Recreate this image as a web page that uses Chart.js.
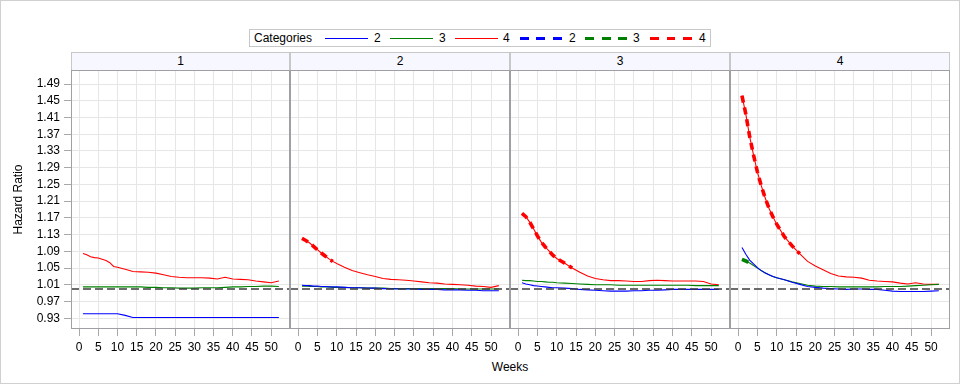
<!DOCTYPE html>
<html><head><meta charset="utf-8">
<script src="https://cdn.jsdelivr.net/npm/chart.js@4/dist/chart.umd.min.js"></script>
<style>
html,body{margin:0;padding:0;background:#fff;}
#root{position:relative;width:960px;height:384px;overflow:hidden;font-family:"Liberation Sans",Arial,sans-serif;font-size:12px;color:#000;background:#fff;}
#frame{position:absolute;left:0;top:0;width:958px;height:382px;border:1px solid #d0d0d0;}
.a{position:absolute;white-space:nowrap;line-height:14px;}
#legend{position:absolute;left:249px;top:29px;width:460px;height:16px;border:1px solid #c8c8c8;}
.hdr{position:absolute;top:52px;height:18px;box-sizing:border-box;background:#f7f8ff;border:1px solid #c8c8c8;border-bottom:none;text-align:center;line-height:17px;}
.sol{position:absolute;height:1px;top:38px;width:43px;}
.dsh{position:absolute;height:3px;top:37px;width:43px;}
canvas{position:absolute;}
</style></head>
<body><div id="root">
<div id="frame"></div>
<div id="legend"></div>
<div class="a" style="left:254px;top:31px;">Categories</div>
<div class="sol" style="left:325px;background:#0000ff;"></div><div class="a" style="left:374px;top:31px;">2</div>
<div class="sol" style="left:390px;background:#008000;"></div><div class="a" style="left:439px;top:31px;">3</div>
<div class="sol" style="left:455px;background:#ff0000;"></div><div class="a" style="left:503px;top:31px;">4</div>
<div class="dsh" style="left:520px;background:repeating-linear-gradient(90deg,#0000ff 0 9px,transparent 9px 16.5px);"></div><div class="a" style="left:569px;top:31px;">2</div>
<div class="dsh" style="left:585px;background:repeating-linear-gradient(90deg,#008000 0 9px,transparent 9px 16.5px);"></div><div class="a" style="left:633px;top:31px;">3</div>
<div class="dsh" style="left:650px;background:repeating-linear-gradient(90deg,#ff0000 0 9px,transparent 9px 16.5px);"></div><div class="a" style="left:699px;top:31px;">4</div>
<div class="hdr" style="left:71px;width:219px;">1</div>
<div class="hdr" style="left:290px;width:220px;">2</div>
<div class="hdr" style="left:510px;width:220px;">3</div>
<div class="hdr" style="left:730px;width:220px;">4</div>
<canvas id="c1" width="290" height="290" style="left:0px;top:70px;"></canvas>
<canvas id="c2" width="220" height="290" style="left:290px;top:70px;"></canvas>
<canvas id="c3" width="220" height="290" style="left:510px;top:70px;"></canvas>
<canvas id="c4" width="220" height="290" style="left:730px;top:70px;"></canvas>
<div class="a" style="left:410px;width:200px;text-align:center;top:360px;">Weeks</div>
</div>
<script>
// ---------------- DATA ----------------
const panels = ['1', '2', '3', '4'];
const categories = ['2', '3', '4'];
const weeks = [1,2,3,4,5,6,7,8,9,10,12,14,16,18,20,22,24,26,28,30,32,34,36,38,40,42,44,46,48,50,52];
const weekTicks = [0,5,10,15,20,25,30,35,40,45,50];
const hrTicks = [0.93,0.97,1.01,1.05,1.09,1.13,1.17,1.21,1.25,1.29,1.33,1.37,1.41,1.45,1.49];
const refValue = 1.0;

const p1_cat2 = [0.941,0.941,0.941,0.941,0.941,0.941,0.941,0.941,0.941,0.941,0.937,0.932,0.932,0.932,0.932,0.932,0.932,0.932,0.932,0.932,0.932,0.932,0.932,0.932,0.932,0.932,0.932,0.932,0.932,0.932,0.932];
const p1_cat3 = [1.005,1.005,1.005,1.005,1.005,1.005,1.005,1.005,1.005,1.005,1.005,1.005,1.005,1.004,1.004,1.003,1.003,1.002,1.002,1.002,1.003,1.003,1.003,1.004,1.005,1.005,1.006,1.006,1.007,1.007,1.006];
const p1_cat4 = [1.085,1.082,1.077,1.075,1.074,1.071,1.068,1.063,1.054,1.052,1.047,1.042,1.041,1.040,1.038,1.034,1.030,1.028,1.027,1.027,1.027,1.026,1.024,1.028,1.024,1.023,1.022,1.019,1.017,1.015,1.019];

const p2_cat2 = [1.009,1.008,1.008,1.007,1.007,1.006,1.006,1.005,1.005,1.005,1.004,1.003,1.003,1.002,1.002,1.001,1.001,1.000,1.000,1.000,0.999,0.999,0.999,0.998,0.998,0.998,0.997,0.997,0.996,0.996,0.996];
const p2_cat3 = [1.007,1.007,1.006,1.006,1.006,1.005,1.005,1.005,1.004,1.004,1.004,1.003,1.003,1.002,1.002,1.002,1.001,1.001,1.001,1.001,1.001,1.001,1.001,1.001,1.001,1.000,1.000,1.000,1.000,1.000,1.000];
const p2_cat4 = [1.121,1.116,1.110,1.102,1.094,1.086,1.079,1.072,1.066,1.061,1.052,1.044,1.039,1.034,1.030,1.025,1.023,1.022,1.021,1.019,1.017,1.015,1.014,1.012,1.011,1.010,1.009,1.007,1.006,1.004,1.008];

const p3_cat2 = [1.015,1.012,1.010,1.008,1.007,1.006,1.005,1.004,1.003,1.003,1.002,1.001,0.999,0.998,0.997,0.996,0.995,0.995,0.995,0.996,0.996,0.997,0.997,0.998,0.999,0.999,0.999,0.999,0.999,0.999,0.999];
const p3_cat3 = [1.021,1.020,1.020,1.019,1.018,1.018,1.017,1.016,1.016,1.015,1.014,1.013,1.012,1.011,1.010,1.010,1.010,1.009,1.009,1.009,1.009,1.009,1.009,1.009,1.009,1.009,1.009,1.008,1.008,1.008,1.008];
const p3_cat4 = [1.181,1.173,1.160,1.144,1.127,1.112,1.101,1.091,1.081,1.073,1.062,1.050,1.040,1.031,1.025,1.022,1.020,1.020,1.019,1.018,1.018,1.020,1.021,1.020,1.019,1.019,1.019,1.019,1.018,1.012,1.010];

const p4_cat2 = [1.099,1.083,1.069,1.060,1.051,1.044,1.038,1.034,1.030,1.027,1.022,1.016,1.011,1.006,1.004,1.002,1.001,1.000,0.999,1.000,1.000,0.999,0.999,0.997,0.995,0.994,0.994,0.994,0.994,0.995,0.996];
const p4_cat3 = [1.071,1.067,1.062,1.056,1.050,1.044,1.039,1.034,1.030,1.027,1.022,1.017,1.013,1.009,1.007,1.006,1.006,1.005,1.005,1.005,1.005,1.005,1.005,1.006,1.006,1.006,1.007,1.008,1.009,1.010,1.011];
const p4_cat4 = [1.462,1.418,1.364,1.320,1.280,1.247,1.218,1.193,1.173,1.155,1.125,1.103,1.084,1.066,1.055,1.046,1.037,1.031,1.029,1.028,1.026,1.021,1.019,1.018,1.017,1.014,1.012,1.015,1.012,1.011,1.011];

// last week of the significant (thick dashed) part, per category 2,3,4 (0 = none)
const p1_sigEnd = [0, 0, 0];
const p2_sigEnd = [0, 0, 9];
const p3_sigEnd = [0, 0, 14];
const p4_sigEnd = [0, 3, 16];

// ---------------- STYLE ----------------
const catColors = ['#0000ff', '#008000', '#ff0000'];
const xMin = -2.1, xMax = 54.9;
const yMin = 0.9044, yMax = 1.5235;

Chart.defaults.font.family = '"Liberation Sans", Arial, sans-serif';
Chart.defaults.font.size = 12;
Chart.defaults.color = '#000';

const framePlugin = {
  id: 'frame',
  afterDraw(chart) {
    const a = chart.chartArea, ctx = chart.ctx;
    ctx.save();
    ctx.strokeStyle = '#a0a0a4';
    ctx.lineWidth = 1;
    ctx.strokeRect(Math.round(a.left) + 0.5, Math.round(a.top) + 0.5,
                   Math.round(a.right - a.left) - 1, Math.round(a.bottom - a.top) - 1);
    ctx.restore();
  }
};

const panelSeries = [
  [p1_cat2, p1_cat3, p1_cat4],
  [p2_cat2, p2_cat3, p2_cat4],
  [p3_cat2, p3_cat3, p3_cat4],
  [p4_cat2, p4_cat3, p4_cat4]
];
const panelSig = [p1_sigEnd, p2_sigEnd, p3_sigEnd, p4_sigEnd];

function makePanel(idx) {
  const first = idx === 0;
  const series = panelSeries[idx];
  const sig = panelSig[idx];
  const datasets = [];
  // reference line (on top)
  datasets.push({
    data: [{x: xMin, y: refValue}, {x: xMax, y: refValue}],
    borderColor: '#3c3c3c', borderWidth: 1.3, borderDash: [8, 4],
    pointRadius: 0, order: 0, clip: false
  });
  series.forEach((vals, c) => {
    if (sig[c] > 0) {
      datasets.push({
        label: categories[c] + ' sig',
        data: weeks.filter(w => w <= sig[c]).map((w, i) => ({x: w, y: vals[i]})),
        borderColor: catColors[c], borderWidth: 3.6, borderDash: [7, 5],
        pointRadius: 0, tension: 0, order: 1
      });
    }
  });
  series.forEach((vals, c) => {
    datasets.push({
      label: categories[c],
      data: weeks.map((w, i) => ({x: w, y: vals[i]})),
      borderColor: catColors[c], borderWidth: 1.1,
      pointRadius: 0, tension: 0, order: 2 + c
    });
  });

  new Chart(document.getElementById('c' + (idx + 1)), {
    type: 'line',
    data: { datasets },
    plugins: [framePlugin],
    options: {
      responsive: false, animation: false, devicePixelRatio: 1,
      layout: { padding: { left: first ? 7 : 0, right: 0, top: 0, bottom: 0 } },
      plugins: { legend: { display: false }, tooltip: { enabled: false } },
      scales: {
        x: {
          type: 'linear', min: xMin, max: xMax,
          afterBuildTicks: s => { s.ticks = weekTicks.map(v => ({ value: v })); },
          afterFit: s => { s.height = 31; s.paddingLeft = 0; s.paddingRight = 0; },
          ticks: { padding: 4, maxRotation: 0, autoSkip: false, color: '#000',
                   callback: v => String(v) },
          grid: { color: '#e6e6e6', tickColor: '#a8a8a8', tickLength: 7, lineWidth: 1 },
          border: { display: false }
        },
        y: {
          type: 'linear', min: yMin, max: yMax,
          afterBuildTicks: s => { s.ticks = hrTicks.map(v => ({ value: v })); },
          afterFit: s => { s.width = first ? 64 : 0; s.paddingTop = 0; s.paddingBottom = 0; },
          ticks: { display: first, padding: 4, color: '#000', autoSkip: false,
                   callback: v => Number(v).toFixed(2) },
          grid: { color: '#e6e6e6', tickColor: '#a8a8a8', tickLength: 7, drawTicks: first },
          border: { display: false },
          title: { display: first, text: 'Hazard Ratio', color: '#000', font: { size: 12 } }
        }
      }
    }
  });
}
panels.forEach((p, i) => makePanel(i));
</script>
</body></html>
